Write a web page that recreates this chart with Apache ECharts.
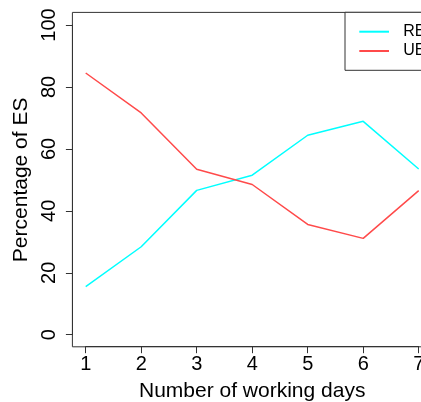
<!DOCTYPE html>
<html>
<head>
<meta charset="utf-8">
<script src="https://cdn.jsdelivr.net/npm/echarts@6/dist/echarts.min.js"></script>
<style>
html,body{margin:0;padding:0;background:#fff;}
#c{width:421px;height:402px;}
</style>
</head>
<body>
<div id="c"></div>
<script>
const days = [1, 2, 3, 4, 5, 6, 7];
const reValues = [15.5, 28.4, 46.6, 51.5, 64.4, 68.9, 53.5];
const ueValues = [84.5, 71.6, 53.4, 48.5, 35.6, 31.1, 46.5];
const seriesNames = ['RE', 'UE'];
const xTitle = 'Number of working days';
const yTitle = 'Percentage of ES';

const font = '"Liberation Sans", Arial, Helvetica, sans-serif';
const axisColor = '#333';

const chart = echarts.init(document.getElementById('c'), null, {renderer: 'canvas'});
chart.setOption({
  animation: false,
  backgroundColor: '#fff',
  color: ['#00FFFF', '#FF4A4A'],
  textStyle: {fontFamily: font},
  grid: [
    {left: 85.7, top: 25, width: 333, height: 309.7, show: false,
     containLabel: false, outerBoundsMode: 'none'},
    {left: 72.4, top: 12.4, width: 360, height: 334.4, show: true,
     containLabel: false, outerBoundsMode: 'none',
     borderColor: axisColor, borderWidth: 1, backgroundColor: 'transparent', z: 0}
  ],
  legend: {
    data: seriesNames,
    orient: 'vertical',
    left: 345, top: 12.3,
    borderColor: axisColor, borderWidth: 1,
    backgroundColor: '#fff',
    padding: [10.4, 40, 10.3, 14.3],
    itemWidth: 29.7, itemHeight: 2, itemGap: 1.3,
    icon: 'rect',
    textStyle: {fontSize: 16, lineHeight: 18, color: '#000', fontFamily: font, padding: [0, 0, 0, 9.3]},
    z: 10
  },
  xAxis: [
    {type: 'value', gridIndex: 0, min: 1, max: 7, interval: 1, offset: 12,
     name: xTitle, nameLocation: 'middle', nameGap: 34,
     nameTextStyle: {fontSize: 21, color: '#000', fontFamily: font},
     axisLine: {show: true, onZero: false, lineStyle: {color: axisColor, width: 1}},
     axisTick: {show: true, length: 6.5, lineStyle: {color: axisColor, width: 1}},
     axisLabel: {fontSize: 20, color: '#000', margin: 8, fontFamily: font},
     splitLine: {show: false}},
    {type: 'value', gridIndex: 1, show: false, min: 0, max: 1}
  ],
  yAxis: [
    {type: 'value', gridIndex: 0, min: 0, max: 100, interval: 20, offset: 13.3,
     name: yTitle, nameLocation: 'middle', nameGap: 35,
     nameTextStyle: {fontSize: 21, color: '#000', fontFamily: font},
     axisLine: {show: true, onZero: false, lineStyle: {color: axisColor, width: 1}},
     axisTick: {show: true, length: 6.5, lineStyle: {color: axisColor, width: 1}},
     axisLabel: {fontSize: 20, color: '#000', margin: 13, rotate: 90, fontFamily: font},
     splitLine: {show: false}},
    {type: 'value', gridIndex: 1, show: false, min: 0, max: 1}
  ],
  series: [
    {name: seriesNames[0], type: 'line', xAxisIndex: 0, yAxisIndex: 0,
     data: days.map((d, i) => [d, reValues[i]]),
     showSymbol: false, lineStyle: {width: 1.5}, z: 3},
    {name: seriesNames[1], type: 'line', xAxisIndex: 0, yAxisIndex: 0,
     data: days.map((d, i) => [d, ueValues[i]]),
     showSymbol: false, lineStyle: {width: 1.5}, z: 3}
  ]
});
</script>
</body>
</html>
